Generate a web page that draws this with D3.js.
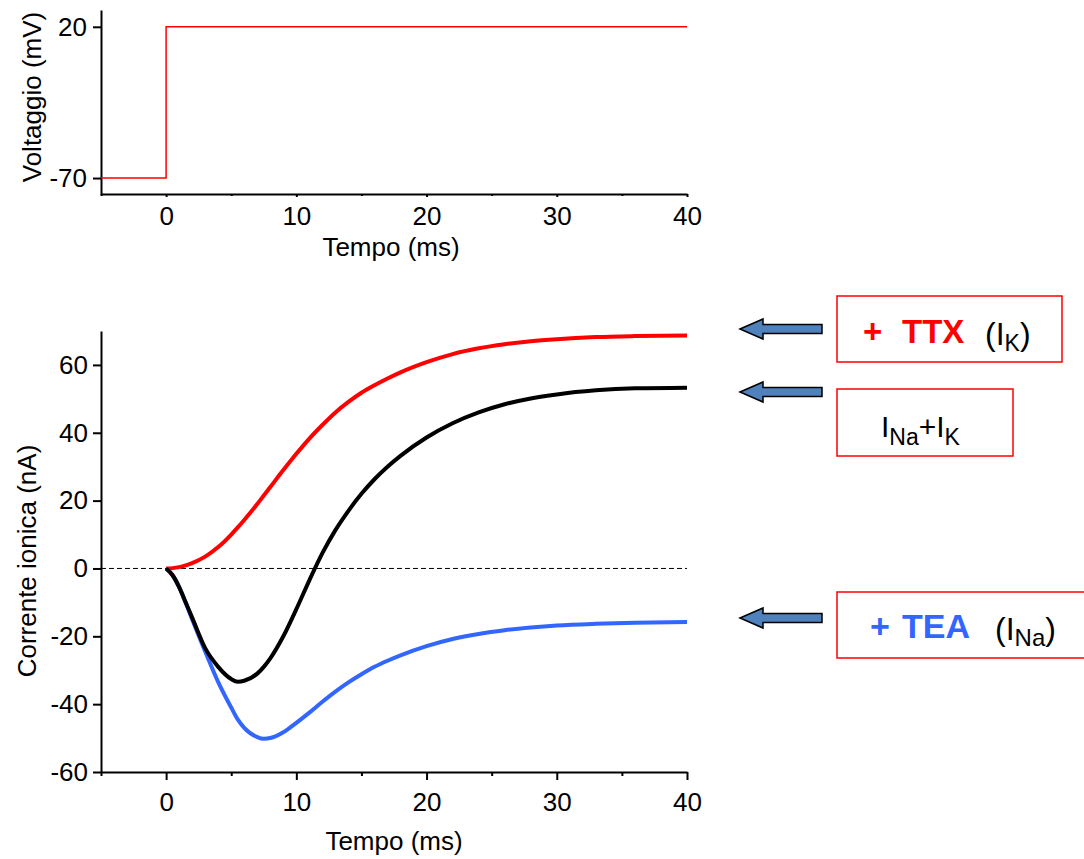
<!DOCTYPE html>
<html>
<head>
<meta charset="utf-8">
<script src="https://cdnjs.cloudflare.com/ajax/libs/d3/7.8.5/d3.min.js"></script>
<style>
  body { margin: 0; background: #fff; }
  svg { display: block; font-family: "Liberation Sans", Arial, sans-serif; }
</style>
</head>
<body>
<script>
    //data
    var stepTime = [-5, 0, 0, 40];
    var stepVolt = [-70, -70, 20, 20];

    var time = [0, 0.5, 1, 1.5, 2, 3, 4, 5, 5.5, 6, 7, 7.5, 8, 9, 10, 11, 12, 13, 14, 15, 16, 17, 18, 20, 22, 24, 26, 28, 30, 33, 36, 40];
    var iK = [0, 0.1, 0.4, 0.9, 1.6, 3.5, 6.3, 10, 12.1, 14.3, 19, 21.5, 24, 29, 33.8, 38.3, 42.3, 46, 49.1, 51.8, 54, 56, 57.8, 60.8, 63.2, 64.9, 66.1, 67, 67.6, 68.2, 68.5, 68.7];
    var iNaK = [0, -2, -5.5, -10, -14.5, -23.5, -29, -32.6, -33.4, -33.1, -31, -29, -26.5, -20, -12, -3.5, 4.5, 11.3, 17, 22, 26.3, 30, 33.2, 38.6, 42.8, 46, 48.4, 50.1, 51.3, 52.5, 53.1, 53.3];
    var iNa = [0, -2, -5.5, -10, -15, -24.5, -33.5, -41, -44.5, -47, -49.7, -50.2, -50, -48.3, -45.5, -42.5, -39.3, -36.3, -33.6, -31.2, -29, -27.2, -25.6, -22.9, -20.8, -19.3, -18.2, -17.4, -16.8, -16.3, -16, -15.8];

    var xMajor = [0, 10, 20, 30, 40];
    var xMinor = [-5, 5, 15, 25, 35];
    var voltTicks = [-70, 20];
    var currTicks = [-60, -40, -20, 0, 20, 40, 60];

    var width = 1084;
    var height = 859;

    var svg = d3.select('body')
        .append('svg')
        .attr('width', width)
        .attr('height', height);

    //scales
    var xScale = d3.scaleLinear().domain([-5, 40]).range([101, 687]);
    var vScale = d3.scaleLinear().domain([-79.5, 30]).range([194, 10]);
    var iScale = d3.scaleLinear().domain([-60, 70]).range([772, 331]);

    // plain hyphen for negatives, like the original
    var fmt = d => String(d);

    var styleAxis = (g, size) => {
        g.selectAll('path, line').attr('stroke', '#000').attr('stroke-width', 2);
        g.selectAll('text').attr('font-size', size).attr('font-family', '"Liberation Sans", Arial, sans-serif').attr('fill', '#000');
    };

    //top panel: voltage step
    svg.append('g')
        .attr('transform', 'translate(0,194)')
        .call(d3.axisBottom(xScale).tickValues(xMinor).tickSize(2).tickSizeOuter(0).tickFormat(''))
        .call(g => styleAxis(g, 26));
    svg.append('g')
        .attr('transform', 'translate(0,194)')
        .call(d3.axisBottom(xScale).tickValues(xMajor).tickSize(3).tickPadding(10).tickSizeOuter(0).tickFormat(fmt))
        .call(g => styleAxis(g, 26))
        .call(g => g.select('.domain').remove());
    svg.append('g')
        .attr('transform', 'translate(101,0)')
        .call(d3.axisLeft(vScale).tickValues(voltTicks).tickSize(8).tickPadding(6).tickSizeOuter(0).tickFormat(fmt))
        .call(g => styleAxis(g, 26));

    svg.append('path')
        .datum(stepTime.map((t, i) => [t, stepVolt[i]]))
        .attr('fill', 'none')
        .attr('stroke', '#ff0000')
        .attr('stroke-width', 1.5)
        .attr('d', d3.line().x(d => xScale(d[0])).y(d => vScale(d[1])));

    svg.append('text')
        .attr('x', 391).attr('y', 256)
        .attr('text-anchor', 'middle')
        .attr('font-size', 26)
        .text('Tempo (ms)');
    svg.append('text')
        .attr('transform', 'translate(41,97) rotate(-90)')
        .attr('text-anchor', 'middle')
        .attr('font-size', 26)
        .text('Voltaggio (mV)');

    //bottom panel: currents
    svg.append('line')
        .attr('x1', xScale(-5)).attr('x2', xScale(40))
        .attr('y1', iScale(0)).attr('y2', iScale(0))
        .attr('stroke', '#000')
        .attr('stroke-width', 1)
        .attr('stroke-dasharray', '5,3');

    svg.append('g')
        .attr('transform', 'translate(0,772)')
        .call(d3.axisBottom(xScale).tickValues(xMinor).tickSize(4).tickSizeOuter(0).tickFormat(''))
        .call(g => styleAxis(g, 26));
    svg.append('g')
        .attr('transform', 'translate(0,772)')
        .call(d3.axisBottom(xScale).tickValues(xMajor).tickSize(8).tickPadding(13).tickSizeOuter(0).tickFormat(fmt))
        .call(g => styleAxis(g, 26))
        .call(g => g.select('.domain').remove());
    svg.append('g')
        .attr('transform', 'translate(101,0)')
        .call(d3.axisLeft(iScale).tickValues(currTicks).tickSize(8).tickPadding(5).tickSizeOuter(0).tickFormat(fmt))
        .call(g => styleAxis(g, 26));

    var curve = d3.line()
        .x(d => xScale(d[0]))
        .y(d => iScale(d[1]))
        .curve(d3.curveMonotoneX);

    var series = [
        { vals: iK, color: '#ff0000' },
        { vals: iNa, color: '#3366ff' },
        { vals: iNaK, color: '#000000' }
    ];

    svg.selectAll('.trace')
        .data(series)
        .enter()
        .append('path')
        .attr('class', 'trace')
        .attr('fill', 'none')
        .attr('stroke', d => d.color)
        .attr('stroke-width', 4)
        .attr('d', d => curve(time.map((t, i) => [t, d.vals[i]])));

    svg.append('text')
        .attr('x', 394).attr('y', 850)
        .attr('text-anchor', 'middle')
        .attr('font-size', 26)
        .text('Tempo (ms)');
    svg.append('text')
        .attr('transform', 'translate(36,561) rotate(-90)')
        .attr('text-anchor', 'middle')
        .attr('font-size', 26)
        .text('Corrente ionica (nA)');

    //labels with arrows
    var arrow = (y) => {
        let p = d3.path();
        p.moveTo(740, y);
        p.lineTo(763, y - 10);
        p.lineTo(763, y - 4.5);
        p.lineTo(822, y - 4.5);
        p.lineTo(822, y + 4.5);
        p.lineTo(763, y + 4.5);
        p.lineTo(763, y + 10);
        p.closePath();
        svg.append('path')
            .attr('d', p.toString())
            .attr('fill', '#4f81bd')
            .attr('stroke', '#000')
            .attr('stroke-width', 1.5);
    };
    arrow(329);
    arrow(392);
    arrow(618);

    var box = (x, y, w, h) => {
        svg.append('rect')
            .attr('x', x).attr('y', y)
            .attr('width', w).attr('height', h)
            .attr('fill', 'none')
            .attr('stroke', '#ff0000')
            .attr('stroke-width', 1.5);
    };
    box(837, 296, 225, 66);
    box(837, 389, 176, 67);
    box(837, 592, 250, 66);

    svg.append('text').attr('x', 863).attr('y', 343)
        .attr('font-size', 33).attr('font-weight', 'bold').attr('fill', '#ff0000').text('+');
    svg.append('text').attr('x', 902).attr('y', 343)
        .attr('font-size', 33).attr('font-weight', 'bold').attr('fill', '#ff0000').text('TTX');
    var t1 = svg.append('text').attr('x', 985).attr('y', 345);
    t1.append('tspan').attr('font-size', 32).text('(I');
    t1.append('tspan').attr('font-size', 23).attr('dy', 6).text('K');
    t1.append('tspan').attr('font-size', 32).attr('dy', -6).text(')');

    var t2 = svg.append('text').attr('x', 881).attr('y', 437);
    t2.append('tspan').attr('font-size', 30).text('I');
    t2.append('tspan').attr('font-size', 23).attr('dy', 8).text('Na');
    t2.append('tspan').attr('font-size', 30).attr('dy', -8).text('+I');
    t2.append('tspan').attr('font-size', 23).attr('dy', 8).text('K');

    svg.append('text').attr('x', 870).attr('y', 638)
        .attr('font-size', 34).attr('font-weight', 'bold').attr('fill', '#3366ff').text('+');
    svg.append('text').attr('x', 902).attr('y', 638)
        .attr('font-size', 34).attr('font-weight', 'bold').attr('fill', '#3366ff').text('TEA');
    var t3 = svg.append('text').attr('x', 995).attr('y', 640);
    t3.append('tspan').attr('font-size', 32).text('(I');
    t3.append('tspan').attr('font-size', 24).attr('dy', 6).text('Na');
    t3.append('tspan').attr('font-size', 32).attr('dy', -6).text(')');
</script>
</body>
</html>
